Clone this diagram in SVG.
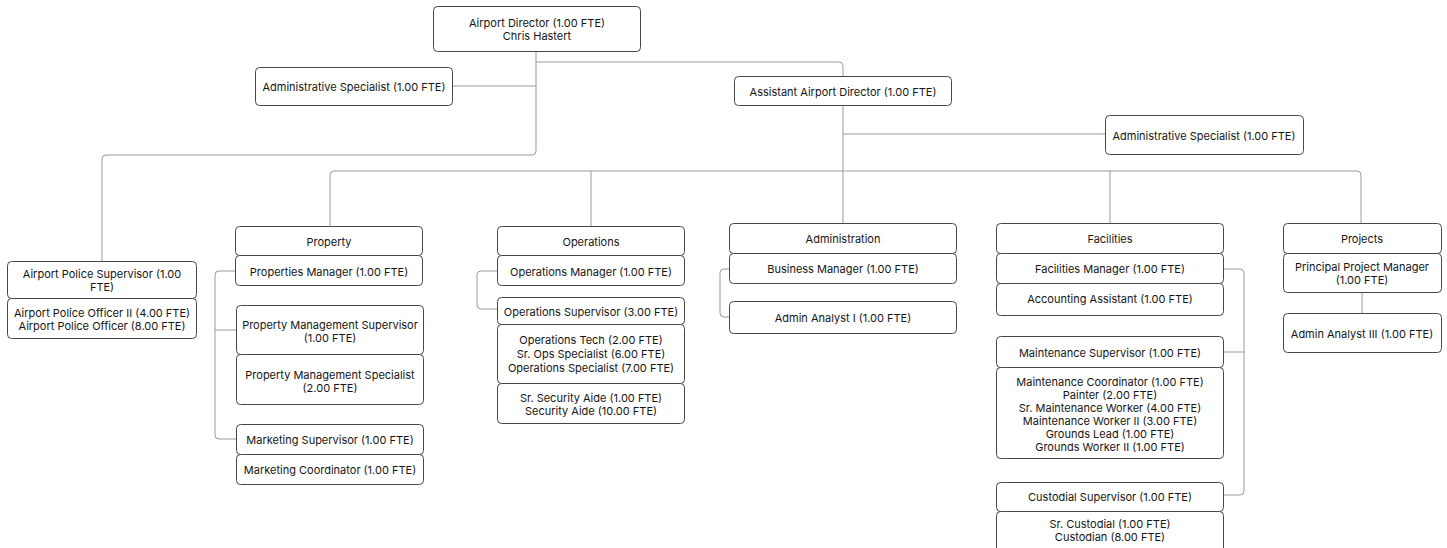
<svg xmlns="http://www.w3.org/2000/svg" width="1447" height="548" viewBox="0 0 1447 548">
  <style>
    .box { fill: #ffffff; stroke: #474747; stroke-width: 1; }
    .line { fill: none; stroke: #9a9a9a; stroke-width: 1; }
    text { font-family: Inter, "Noto Sans", "Liberation Sans", sans-serif; font-size: 11px; fill: #151515; text-anchor: middle; }
  </style>
  <rect width="1447" height="548" fill="#ffffff"/>

  <!-- reporting lines -->
  <g id="connectors">
    <path class="line" d="M536,51 V151 Q536,155 532,155 H106 Q102,155 102,159 V261"/>
    <path class="line" d="M452,86 H536"/>
    <path class="line" d="M536,62 H839 Q843,62 843,66 V76"/>
    <path class="line" d="M843,105 V171"/>
    <path class="line" d="M843,134 H1105"/>
    <path class="line" d="M330,226 V175 Q330,171 334,171 H1357 Q1361,171 1361,175 V223"/>
    <path class="line" d="M591,171 V226"/>
    <path class="line" d="M843,171 V223"/>
    <path class="line" d="M1110,171 V223"/>
    <path class="line" d="M236,271 H219 Q215,271 215,275 V435 Q215,439 219,439 H236"/>
    <path class="line" d="M215,330 H236"/>
    <path class="line" d="M497,271 H481 Q477,271 477,275 V305 Q477,309 481,309 H497"/>
    <path class="line" d="M729,269 H724 Q720,269 720,273 V313 Q720,317 724,317 H729"/>
    <path class="line" d="M1223,269 H1240 Q1244,269 1244,273 V491 Q1244,495 1240,495 H1223"/>
    <path class="line" d="M1223,352 H1244"/>
    <path class="line" d="M1362,293 V313"/>
  </g>

  <g id="airport-director">
    <rect class="box" x="433.5" y="6.5" width="207" height="45" rx="4"/>
    <text x="537" y="27">Airport Director (1.00 FTE)</text>
    <text x="537" y="40">Chris Hastert</text>
  </g>

  <g id="admin-specialist-1">
    <rect class="box" x="255.5" y="67.5" width="197" height="38" rx="4"/>
    <text x="354" y="91">Administrative Specialist (1.00 FTE)</text>
  </g>

  <g id="assistant-director">
    <rect class="box" x="734.5" y="76.5" width="217" height="29" rx="4"/>
    <text x="843" y="96">Assistant Airport Director (1.00 FTE)</text>
  </g>

  <g id="admin-specialist-2">
    <rect class="box" x="1105.5" y="115.5" width="198" height="39" rx="4"/>
    <text x="1204" y="140">Administrative Specialist (1.00 FTE)</text>
  </g>

  <g id="police">
    <rect class="box" x="7.5" y="261.5" width="189" height="37" rx="4"/>
    <text x="102" y="278">Airport Police Supervisor (1.00</text>
    <text x="102" y="291">FTE)</text>
    <rect class="box" x="7.5" y="298.5" width="189" height="40" rx="4"/>
    <text x="102" y="317">Airport Police Officer II (4.00 FTE)</text>
    <text x="102" y="330">Airport Police Officer (8.00 FTE)</text>
  </g>

  <g id="property">
    <rect class="box" x="235.5" y="226.5" width="187" height="29" rx="4"/>
    <text x="329" y="246">Property</text>
    <rect class="box" x="235.5" y="255.5" width="187" height="30" rx="4"/>
    <text x="329" y="276">Properties Manager (1.00 FTE)</text>
    <rect class="box" x="236.5" y="305.5" width="187" height="49" rx="4"/>
    <text x="330" y="329">Property Management Supervisor</text>
    <text x="330" y="342">(1.00 FTE)</text>
    <rect class="box" x="236.5" y="354.5" width="187" height="50" rx="4"/>
    <text x="330" y="379">Property Management Specialist</text>
    <text x="330" y="392">(2.00 FTE)</text>
    <rect class="box" x="236.5" y="424.5" width="187" height="30" rx="4"/>
    <text x="330" y="444">Marketing Supervisor (1.00 FTE)</text>
    <rect class="box" x="236.5" y="454.5" width="187" height="30" rx="4"/>
    <text x="330" y="474">Marketing Coordinator (1.00 FTE)</text>
  </g>

  <g id="operations">
    <rect class="box" x="497.5" y="226.5" width="187" height="29" rx="4"/>
    <text x="591" y="246">Operations</text>
    <rect class="box" x="497.5" y="255.5" width="187" height="30" rx="4"/>
    <text x="591" y="276">Operations Manager (1.00 FTE)</text>
    <rect class="box" x="497.5" y="297.5" width="187" height="27" rx="4"/>
    <text x="591" y="316">Operations Supervisor (3.00 FTE)</text>
    <rect class="box" x="497.5" y="324.5" width="187" height="59" rx="4"/>
    <text x="591" y="344">Operations Tech (2.00 FTE)</text>
    <text x="591" y="358">Sr. Ops Specialist (6.00 FTE)</text>
    <text x="591" y="372">Operations Specialist (7.00 FTE)</text>
    <rect class="box" x="497.5" y="383.5" width="187" height="40" rx="4"/>
    <text x="591" y="402">Sr. Security Aide (1.00 FTE)</text>
    <text x="591" y="415">Security Aide (10.00 FTE)</text>
  </g>

  <g id="administration">
    <rect class="box" x="729.5" y="223.5" width="227" height="30" rx="4"/>
    <text x="843" y="243">Administration</text>
    <rect class="box" x="729.5" y="253.5" width="227" height="30" rx="4"/>
    <text x="843" y="273">Business Manager (1.00 FTE)</text>
    <rect class="box" x="729.5" y="301.5" width="227" height="32" rx="4"/>
    <text x="843" y="322">Admin Analyst I (1.00 FTE)</text>
  </g>

  <g id="facilities">
    <rect class="box" x="996.5" y="223.5" width="227" height="30" rx="4"/>
    <text x="1110" y="243">Facilities</text>
    <rect class="box" x="996.5" y="253.5" width="227" height="30" rx="4"/>
    <text x="1110" y="273">Facilities Manager (1.00 FTE)</text>
    <rect class="box" x="996.5" y="283.5" width="227" height="32" rx="4"/>
    <text x="1110" y="303">Accounting Assistant (1.00 FTE)</text>
    <rect class="box" x="996.5" y="336.5" width="227" height="31" rx="4"/>
    <text x="1110" y="357">Maintenance Supervisor (1.00 FTE)</text>
    <rect class="box" x="996.5" y="367.5" width="227" height="91" rx="4"/>
    <text x="1110" y="386">Maintenance Coordinator (1.00 FTE)</text>
    <text x="1110" y="399">Painter (2.00 FTE)</text>
    <text x="1110" y="412">Sr. Maintenance Worker (4.00 FTE)</text>
    <text x="1110" y="425">Maintenance Worker II (3.00 FTE)</text>
    <text x="1110" y="438">Grounds Lead (1.00 FTE)</text>
    <text x="1110" y="451">Grounds Worker II (1.00 FTE)</text>
    <rect class="box" x="996.5" y="482.5" width="227" height="29" rx="4"/>
    <text x="1110" y="501">Custodial Supervisor (1.00 FTE)</text>
    <rect class="box" x="996.5" y="511.5" width="227" height="45" rx="4"/>
    <text x="1110" y="528">Sr. Custodial (1.00 FTE)</text>
    <text x="1110" y="541">Custodian (8.00 FTE)</text>
  </g>

  <g id="projects">
    <rect class="box" x="1283.5" y="223.5" width="158" height="30" rx="4"/>
    <text x="1362" y="243">Projects</text>
    <rect class="box" x="1283.5" y="253.5" width="158" height="39" rx="4"/>
    <text x="1362" y="271">Principal Project Manager</text>
    <text x="1362" y="284">(1.00 FTE)</text>
    <rect class="box" x="1283.5" y="313.5" width="158" height="39" rx="4"/>
    <text x="1362" y="338">Admin Analyst III (1.00 FTE)</text>
  </g>
</svg>
